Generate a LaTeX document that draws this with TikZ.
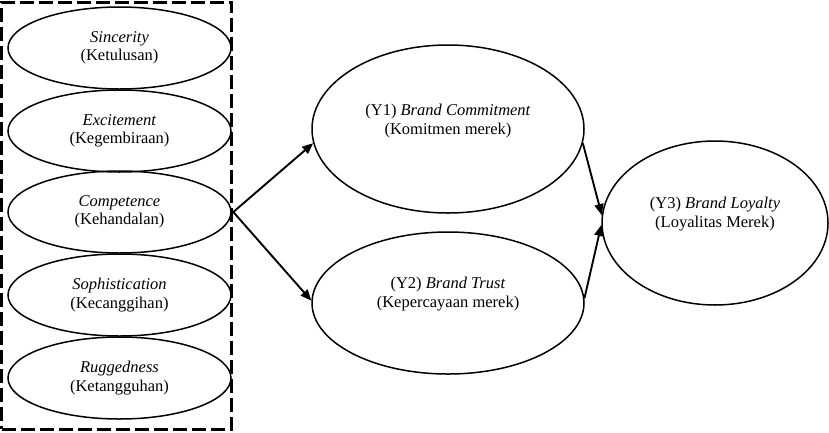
\documentclass[tikz,border=0pt]{standalone}
\usepackage{fontspec}
\setmainfont{Liberation Serif}
\usetikzlibrary{arrows.meta,shapes.geometric}
\begin{document}
\begin{tikzpicture}[x=1pt,y=-1pt,
  every node/.style={font=\fontsize{16.5}{18.5}\selectfont},
  elips/.style={draw,ellipse,line width=1.5pt,inner sep=0pt,align=center},
  panah/.style={line width=1.9pt,-{Triangle[length=11pt,width=9pt]}}]
\useasboundingbox (0,0) rectangle (829,432);

% 绘制虚线框
\node[draw,line width=3pt,dash pattern=on 14pt off 5pt,minimum width=230pt,minimum height=427pt,inner sep=0pt] (box) at (116.8,215.5) {};

% 绘制左侧椭圆(品牌个性的五个维度)
\foreach \y/\en/\id/\nm in {48/Sincerity/Ketulusan/sin, 131/Excitement/Kegembiraan/exc, 212/Competence/Kehandalan/com, 295/Sophistication/Kecanggihan/sop, 378/Ruggedness/Ketangguhan/rug}{
  \node[elips,minimum width=223pt,minimum height=82pt] (\nm) at (119.5,\y) {\textit{\en}\\(\id)};
}

% 绘制中间与右侧椭圆
\node[elips,minimum width=272pt,minimum height=168pt] (bc) at (448,129) {};
\node[align=center] (bct) at (448,121) {(Y1) \textit{Brand Commitment}\\(Komitmen merek)};
\node[elips,minimum width=272pt,minimum height=142pt] (bt) at (448,303) {};
\node[align=center] (btt) at (448,294) {(Y2) \textit{Brand Trust}\\(Kepercayaan merek)};
\node[elips,minimum width=226pt,minimum height=164pt] (y3) at (715,223) {};
\node[align=center] (y3t) at (715,214) {(Y3) \textit{Brand Loyalty}\\(Loyalitas Merek)};

% 绘制箭头
\coordinate (src) at ([yshift=3.5pt]box.east);
\draw[panah] (src) -- (bc.186);
\draw[panah] (src) -- (bt.179);
\draw[panah] (bc.354) -- (y3.176);
\draw[panah] (bt.2) -- (y3.181);
\end{tikzpicture}
\end{document}
